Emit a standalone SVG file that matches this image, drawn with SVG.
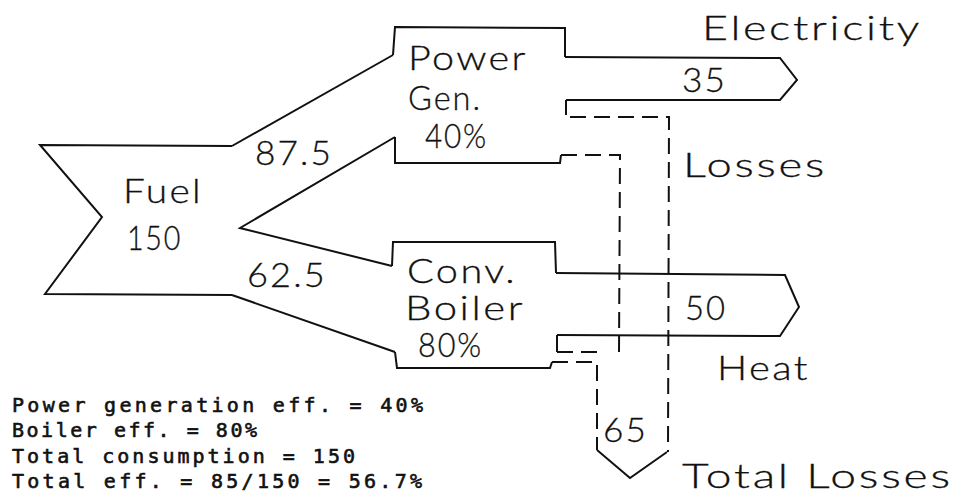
<svg xmlns="http://www.w3.org/2000/svg" width="969" height="500" viewBox="0 0 969 500">
<style>
.o{fill:none;stroke:#111;stroke-width:2;stroke-linejoin:miter;stroke-linecap:butt}
.d{stroke-dasharray:16 8}
.t{font-family:Lato,"Liberation Sans",Arial,sans-serif;font-weight:300;font-size:33px;letter-spacing:2px;fill:#111;stroke:#111;stroke-width:0.3}
.n{font-family:"DejaVu Sans Mono","Liberation Mono",monospace;font-size:20px;font-weight:normal;fill:#111;stroke:#111;stroke-width:0.6}
</style>
<rect width="969" height="500" fill="#fff"/>
<g id="connectors">
  <path class="o" d="M232,146 L393,55"/>
  <path class="o" d="M395,137 L240,228 L392,266"/>
  <path class="o" d="M232,295 L395,352"/>
  <path class="o d" d="M570,117 L669,117 L668,452"/>
  <path class="o d" d="M561,155 L620,155 L619,352"/>
  <path class="o d" d="M557,352 L605,352"/>
  <path class="o d" d="M552,362 L597,362 L597,450"/>
</g>
<g id="fuel">
  <path class="o" d="M232,146 L40,145 L102,217 L45,294 L232,295"/>
  <text class="t" x="123" y="203" textLength="80" lengthAdjust="spacingAndGlyphs">Fuel</text>
  <text class="t" x="127" y="250" textLength="55" lengthAdjust="spacingAndGlyphs">150</text>
  <text class="t" x="255" y="165" textLength="78" lengthAdjust="spacingAndGlyphs">87.5</text>
  <text class="t" x="247" y="287" textLength="80" lengthAdjust="spacingAndGlyphs">62.5</text>
</g>
<g id="power-gen">
  <path class="o" d="M393,55 L395,27 L565,28 L565,57"/>
  <path class="o" d="M395,137 L395,163 L560,163 L561,155"/>
  <path class="o" d="M566,100 L566,115"/>
  <text class="t" x="408" y="70" textLength="120" lengthAdjust="spacingAndGlyphs">Power</text>
  <text class="t" x="408" y="110" textLength="74" lengthAdjust="spacingAndGlyphs">Gen.</text>
  <text class="t" x="425" y="148" textLength="63" lengthAdjust="spacingAndGlyphs">40%</text>
</g>
<g id="electricity">
  <path class="o" d="M565,57 L780,58 L797,80 L780,100 L566,100"/>
  <text class="t" x="702" y="40" textLength="220" lengthAdjust="spacingAndGlyphs">Electricity</text>
  <text class="t" x="682" y="92" textLength="45" lengthAdjust="spacingAndGlyphs">35</text>
</g>
<g id="conv-boiler">
  <path class="o" d="M392,266 L393,242 L555,242 L556,273"/>
  <path class="o" d="M395,352 L397,368 L550,368 L552,362"/>
  <path class="o" d="M557,335 L557,352"/>
  <text class="t" x="407" y="283" textLength="110" lengthAdjust="spacingAndGlyphs">Conv.</text>
  <text class="t" x="405" y="320" textLength="120" lengthAdjust="spacingAndGlyphs">Boiler</text>
  <text class="t" x="418" y="357" textLength="65" lengthAdjust="spacingAndGlyphs">80%</text>
</g>
<g id="heat">
  <path class="o" d="M556,273 L785,275 L799,307 L780,336 L557,335"/>
  <text class="t" x="685" y="320" textLength="42" lengthAdjust="spacingAndGlyphs">50</text>
  <text class="t" x="717" y="380" textLength="93" lengthAdjust="spacingAndGlyphs">Heat</text>
</g>
<g id="losses">
  <text class="t" x="683" y="177" textLength="144" lengthAdjust="spacingAndGlyphs">Losses</text>
</g>
<g id="total-losses">
  <path class="o" d="M597,450 L630,478 L667,452"/>
  <text class="t" x="603" y="442" textLength="45" lengthAdjust="spacingAndGlyphs">65</text>
  <text class="t" x="682" y="488" textLength="271" lengthAdjust="spacingAndGlyphs">Total Losses</text>
</g>
<g id="notes">
  <text class="n" x="12" y="412" textLength="411" lengthAdjust="spacing">Power generation eff. = 40%</text>
  <text class="n" x="12" y="437" textLength="245" lengthAdjust="spacing">Boiler eff. = 80%</text>
  <text class="n" x="12" y="463" textLength="343" lengthAdjust="spacing">Total consumption = 150</text>
  <text class="n" x="12" y="488" textLength="410" lengthAdjust="spacing">Total eff. = 85/150 = 56.7%</text>
</g>
</svg>
